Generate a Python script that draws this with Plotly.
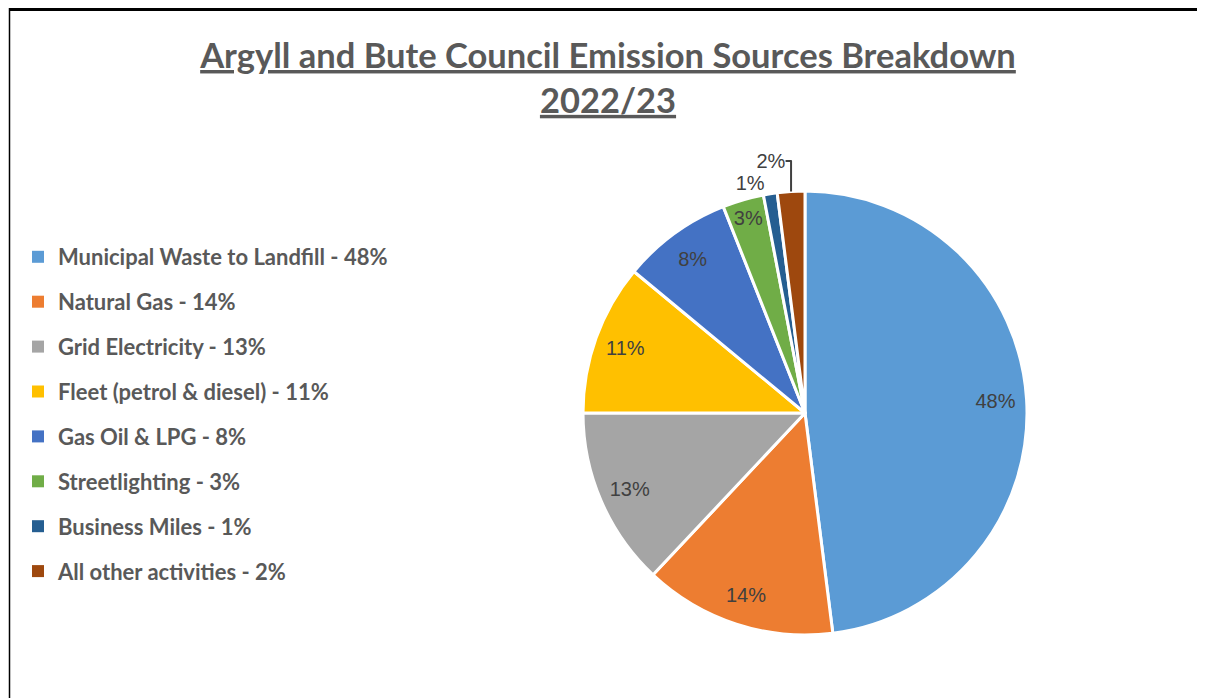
import plotly.graph_objects as go

categories = ["Municipal Waste to Landfill", "Natural Gas", "Grid Electricity",
              "Fleet (petrol & diesel)", "Gas Oil & LPG", "Streetlighting",
              "Business Miles", "All other activities"]
values = [48, 14, 13, 11, 8, 3, 1, 2]
colors = ["#5B9BD5", "#ED7D31", "#A5A5A5", "#FFC000", "#4472C4", "#70AD47", "#255E91", "#9E480E"]
title_text = "Argyll and Bute Council Emission Sources Breakdown<br>2022/23"

W, H = 1205, 698
OFF = 8  # page body margin
cx, cy, R = 805 - OFF, 413 - OFF, 222
dom_x = [(cx - R) / W, (cx + R) / W]
dom_y = [(H - cy - R) / H, (H - cy + R) / H]

fig = go.Figure()

fig.add_trace(go.Pie(
    labels=categories, values=values, sort=False, direction="clockwise", rotation=0,
    marker=dict(colors=colors, line=dict(color="white", width=3)),
    textinfo="none", showlegend=False, domain=dict(x=dom_x, y=dom_y), hoverinfo="label+percent",
))

textpos = ["inside"] * 6 + ["outside", "outside"]
fig.add_trace(go.Pie(
    labels=categories, values=values, sort=False, direction="clockwise", rotation=0, hole=0.72,
    marker=dict(colors=["rgba(0,0,0,0)"] * len(values), line=dict(width=0)),
    texttemplate="%{value}%", textposition=textpos, insidetextorientation="horizontal",
    textfont=dict(family="Liberation Sans", size=20, color="#404040"),
    outsidetextfont=dict(family="Liberation Sans", size=20, color="#404040"),
    showlegend=False, domain=dict(x=dom_x, y=dom_y), hoverinfo="skip",
))

for c, v, col in zip(categories, values, colors):
    fig.add_trace(go.Scatter(
        x=[None], y=[None], mode="markers", name=f"{c} - {v}%",
        marker=dict(symbol="square", size=9, color=col), legendgroup=c,
    ))

fig.update_layout(
    width=W, height=H,
    margin=dict(l=0, r=0, t=0, b=0),
    paper_bgcolor="white", plot_bgcolor="white",
    xaxis=dict(visible=False), yaxis=dict(visible=False),
    title=dict(text=title_text, x=(608 - OFF) / W, xanchor="center", y=1 - (68 - OFF) / H, yanchor="top",
               font=dict(family="Lato", size=34.5, color="#595959", weight="bold",
                         lineposition="under")),
    legend=dict(x=(18 - OFF) / W, xanchor="left", y=1 - (236 - OFF) / H, yanchor="top",
                font=dict(family="Lato", size=22, color="#595959", weight="bold"),
                tracegroupgap=13.3, itemsizing="constant"),
    shapes=[
        dict(type="line", xref="paper", yref="paper", x0=(9 - OFF) / W, x1=1,
             y0=1 - 1.5 / H, y1=1 - 1.5 / H, line=dict(color="black", width=3)),
        dict(type="line", xref="paper", yref="paper", x0=(9.5 - OFF) / W, x1=(9.5 - OFF) / W,
             y0=0, y1=1, line=dict(color="black", width=1.5)),
    ],
)

fig.write_html("out.html")
